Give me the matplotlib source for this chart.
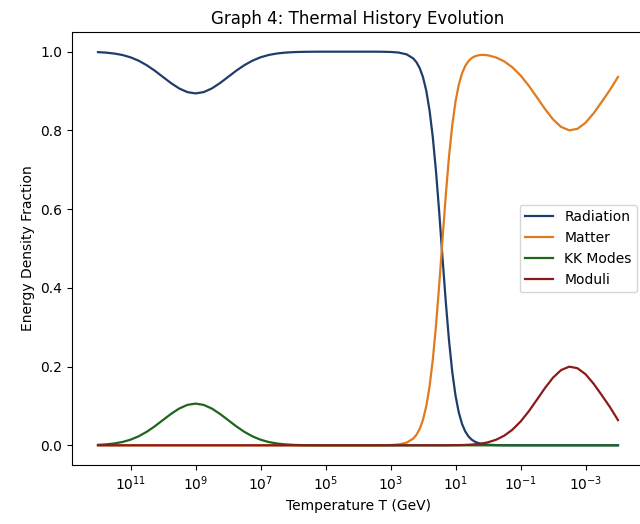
import numpy as np
import matplotlib
matplotlib.use('Agg')
import matplotlib.pyplot as plt

# log10 of temperature (GeV)
log_T = [12, 11.75, 11.5, 11.25, 11, 10.75, 10.5, 10.25, 10, 9.75, 9.5, 9.25,
         9, 8.75, 8.5, 8.25, 8, 7.75, 7.5, 7.25, 7, 6.75, 6.5, 6.25,
         6, 5.75, 5.5, 5.25, 5, 4.75, 4.5, 4.25, 4, 3.75, 3.5, 3.25,
         3.0, 2.75, 2.5,
         2.3, 2.2, 2.1, 2.0, 1.9, 1.8, 1.7, 1.6, 1.5, 1.4, 1.3, 1.2,
         1.1, 1.0, 0.9, 0.8, 0.7, 0.6, 0.5, 0.4, 0.3, 0.2, 0.1, 0.0,
         -0.25, -0.5, -0.75, -1.0, -1.25, -1.5, -1.75, -2.0,
         -2.25, -2.5, -2.75, -3.0, -3.25, -3.5, -3.75, -4.0]

radiation = [0.9988, 0.9976, 0.9953, 0.9916, 0.9857, 0.9771, 0.9656, 0.9515, 0.9357, 0.9200, 0.9065, 0.8973,
             0.894, 0.8973, 0.9065, 0.9200, 0.9357, 0.9515, 0.9656, 0.9771, 0.9857, 0.9916, 0.9953, 0.9976,
             0.9988, 0.9995, 0.9998, 1, 1, 1, 1, 1, 1, 1, 1, 0.9998,
             0.9993, 0.9978, 0.9931,
             0.9828, 0.9731, 0.9580, 0.9351, 0.9010, 0.8517, 0.7838, 0.6960, 0.5910, 0.4770, 0.3654, 0.2666,
             0.1866, 0.1265, 0.0838, 0.0546, 0.0352, 0.0225, 0.0143, 0.0091, 0.0058, 0.0036, 0.0023, 0.0015,
             0.0005, 0.0002, 0.0001, 0, 0, 0, 0, 0,
             0, 0, 0, 0, 0, 0, 0, 0]

matter = [0] * 35 + [0.0002,
          0.0007, 0.0022, 0.0069,
          0.0172, 0.0269, 0.0420, 0.0649, 0.0990, 0.1483, 0.2162, 0.3040, 0.4090, 0.5230, 0.6346, 0.7334,
          0.8131, 0.8731, 0.9157, 0.9447, 0.9638, 0.9761, 0.9838, 0.9883, 0.9908, 0.9918, 0.9917, 0.9908,
          0.9853, 0.9753, 0.9603, 0.9398, 0.9141, 0.8847, 0.8548, 0.8281,
          0.8088, 0.8002, 0.8040, 0.8193, 0.8435, 0.8726, 0.9026, 0.936]

kk_modes = [0.0012, 0.0024, 0.0047, 0.0084, 0.0143, 0.0229, 0.0344, 0.0485, 0.0643, 0.0800, 0.0935, 0.1027,
            0.106, 0.1027, 0.0935, 0.0800, 0.0643, 0.0485, 0.0344, 0.0229, 0.0143, 0.0084, 0.0047, 0.0024,
            0.0012, 0.0005, 0.0002] + [0] * 52

moduli = [0] * 50 + [0.0001,
          0.0003, 0.0004, 0.0005, 0.0007, 0.0010, 0.0014, 0.0019, 0.0026, 0.0034, 0.0046, 0.0060, 0.0077,
          0.0142, 0.0245, 0.0396, 0.0602, 0.0859, 0.1153, 0.1452, 0.1719,
          0.1912, 0.1998, 0.1960, 0.1807, 0.1565, 0.1274, 0.0974, 0.064]

T = 10.0 ** np.array(log_T)

fig = plt.figure(figsize=(6.4, 5.24), dpi=100)
# axes run a little past the right edge, like the cropped reference
ax = fig.add_axes([72 / 640, 59 / 524, 572 / 640, 433 / 524])

ax.plot(T, radiation, color='#1f3d6b', lw=1.6, label='Radiation')
ax.plot(T, matter, color='#e07a1f', lw=1.6, label='Matter')
ax.plot(T, kk_modes, color='#1c661c', lw=1.6, label='KK Modes')
ax.plot(T, moduli, color='#8b1a1a', lw=1.6, label='Moduli')

ax.set_xscale('log')
ax.invert_xaxis()
ax.set_xlabel('Temperature T (GeV)')
ax.set_ylabel('Energy Density Fraction')
ax.set_title('Graph 4: Thermal History Evolution')
ax.legend(loc='center right')

fig.savefig('out.png', dpi=100)
